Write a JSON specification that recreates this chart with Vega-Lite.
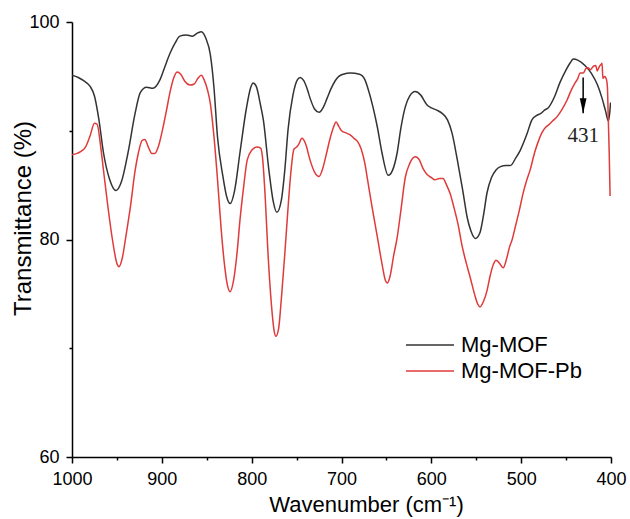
{
  "$schema": "https://vega.github.io/schema/vega-lite/v6.json",
  "width": 539,
  "height": 435,
  "autosize": {"type": "none"},
  "padding": {"left": 72, "top": 22, "right": 19, "bottom": 62},
  "background": "white",
  "config": {
    "view": {"stroke": null},
    "font": "Liberation Sans",
    "axis": {
      "domainColor": "black", "domainWidth": 1.5, "tickColor": "black", "tickWidth": 1.5,
      "labelColor": "black", "titleColor": "black", "labelFont": "Liberation Sans", "titleFont": "Liberation Sans",
      "titleFontWeight": "normal", "grid": false
    }
  },
  "datasets": {
    "spectra": [
      {"wn": 1000, "t": 95.1, "s": "Mg-MOF"}, {"wn": 993, "t": 94.9, "s": "Mg-MOF"}, {"wn": 987, "t": 94.6, "s": "Mg-MOF"},
      {"wn": 980, "t": 94.1, "s": "Mg-MOF"}, {"wn": 975, "t": 93.2, "s": "Mg-MOF"}, {"wn": 970, "t": 91.0, "s": "Mg-MOF"},
      {"wn": 965, "t": 88.0, "s": "Mg-MOF"}, {"wn": 958, "t": 85.5, "s": "Mg-MOF"}, {"wn": 951, "t": 84.5, "s": "Mg-MOF"},
      {"wn": 945, "t": 85.3, "s": "Mg-MOF"}, {"wn": 937.6, "t": 88.0, "s": "Mg-MOF"}, {"wn": 930, "t": 91.5, "s": "Mg-MOF"},
      {"wn": 924, "t": 93.5, "s": "Mg-MOF"}, {"wn": 917, "t": 94.0, "s": "Mg-MOF"}, {"wn": 910, "t": 93.9, "s": "Mg-MOF"},
      {"wn": 902, "t": 94.7, "s": "Mg-MOF"}, {"wn": 897, "t": 95.8, "s": "Mg-MOF"}, {"wn": 891, "t": 97.1, "s": "Mg-MOF"},
      {"wn": 885, "t": 98.1, "s": "Mg-MOF"}, {"wn": 880, "t": 98.7, "s": "Mg-MOF"}, {"wn": 873, "t": 98.8, "s": "Mg-MOF"},
      {"wn": 866, "t": 98.7, "s": "Mg-MOF"}, {"wn": 860, "t": 99.0, "s": "Mg-MOF"}, {"wn": 856, "t": 99.1, "s": "Mg-MOF"},
      {"wn": 851, "t": 98.5, "s": "Mg-MOF"}, {"wn": 846, "t": 97.0, "s": "Mg-MOF"}, {"wn": 842, "t": 94.0, "s": "Mg-MOF"},
      {"wn": 838, "t": 89.4, "s": "Mg-MOF"}, {"wn": 832, "t": 85.8, "s": "Mg-MOF"}, {"wn": 828, "t": 84.0, "s": "Mg-MOF"},
      {"wn": 824, "t": 83.3, "s": "Mg-MOF"}, {"wn": 819, "t": 84.5, "s": "Mg-MOF"}, {"wn": 813, "t": 88.0, "s": "Mg-MOF"},
      {"wn": 806, "t": 92.0, "s": "Mg-MOF"}, {"wn": 801, "t": 94.0, "s": "Mg-MOF"}, {"wn": 798.5, "t": 94.4, "s": "Mg-MOF"},
      {"wn": 795, "t": 94.1, "s": "Mg-MOF"}, {"wn": 790, "t": 92.3, "s": "Mg-MOF"}, {"wn": 787, "t": 91.0, "s": "Mg-MOF"},
      {"wn": 781, "t": 86.5, "s": "Mg-MOF"}, {"wn": 776, "t": 83.5, "s": "Mg-MOF"}, {"wn": 772, "t": 82.5, "s": "Mg-MOF"},
      {"wn": 767, "t": 83.6, "s": "Mg-MOF"}, {"wn": 763, "t": 86.5, "s": "Mg-MOF"}, {"wn": 759.5, "t": 90.1, "s": "Mg-MOF"},
      {"wn": 754, "t": 93.3, "s": "Mg-MOF"}, {"wn": 749, "t": 94.7, "s": "Mg-MOF"}, {"wn": 746, "t": 94.9, "s": "Mg-MOF"},
      {"wn": 742, "t": 94.6, "s": "Mg-MOF"}, {"wn": 738, "t": 93.8, "s": "Mg-MOF"}, {"wn": 735, "t": 93.0, "s": "Mg-MOF"},
      {"wn": 730, "t": 92.0, "s": "Mg-MOF"}, {"wn": 725, "t": 91.7, "s": "Mg-MOF"}, {"wn": 720, "t": 92.2, "s": "Mg-MOF"},
      {"wn": 716, "t": 93.0, "s": "Mg-MOF"}, {"wn": 712, "t": 93.8, "s": "Mg-MOF"}, {"wn": 707, "t": 94.6, "s": "Mg-MOF"},
      {"wn": 703, "t": 95.0, "s": "Mg-MOF"}, {"wn": 698, "t": 95.2, "s": "Mg-MOF"}, {"wn": 690, "t": 95.3, "s": "Mg-MOF"},
      {"wn": 680, "t": 95.2, "s": "Mg-MOF"}, {"wn": 674, "t": 94.7, "s": "Mg-MOF"}, {"wn": 671, "t": 94.0, "s": "Mg-MOF"},
      {"wn": 665, "t": 92.2, "s": "Mg-MOF"}, {"wn": 660, "t": 90.3, "s": "Mg-MOF"}, {"wn": 655, "t": 88.0, "s": "Mg-MOF"},
      {"wn": 648, "t": 85.9, "s": "Mg-MOF"}, {"wn": 643, "t": 86.4, "s": "Mg-MOF"}, {"wn": 638, "t": 88.0, "s": "Mg-MOF"},
      {"wn": 634, "t": 90.2, "s": "Mg-MOF"}, {"wn": 629, "t": 92.2, "s": "Mg-MOF"}, {"wn": 624, "t": 93.2, "s": "Mg-MOF"},
      {"wn": 618, "t": 93.6, "s": "Mg-MOF"}, {"wn": 612, "t": 93.3, "s": "Mg-MOF"}, {"wn": 605, "t": 92.4, "s": "Mg-MOF"},
      {"wn": 600, "t": 92.1, "s": "Mg-MOF"}, {"wn": 594, "t": 91.9, "s": "Mg-MOF"}, {"wn": 588, "t": 91.6, "s": "Mg-MOF"},
      {"wn": 582, "t": 91.0, "s": "Mg-MOF"}, {"wn": 577, "t": 89.8, "s": "Mg-MOF"}, {"wn": 571, "t": 87.3, "s": "Mg-MOF"},
      {"wn": 565, "t": 84.5, "s": "Mg-MOF"}, {"wn": 560, "t": 82.0, "s": "Mg-MOF"}, {"wn": 556, "t": 80.8, "s": "Mg-MOF"},
      {"wn": 551, "t": 80.1, "s": "Mg-MOF"}, {"wn": 546, "t": 80.6, "s": "Mg-MOF"}, {"wn": 542, "t": 82.2, "s": "Mg-MOF"},
      {"wn": 538, "t": 84.3, "s": "Mg-MOF"}, {"wn": 533, "t": 85.7, "s": "Mg-MOF"}, {"wn": 528, "t": 86.4, "s": "Mg-MOF"},
      {"wn": 523, "t": 86.7, "s": "Mg-MOF"}, {"wn": 517, "t": 86.8, "s": "Mg-MOF"}, {"wn": 512, "t": 86.8, "s": "Mg-MOF"},
      {"wn": 506, "t": 87.5, "s": "Mg-MOF"}, {"wn": 501, "t": 88.2, "s": "Mg-MOF"}, {"wn": 494, "t": 89.6, "s": "Mg-MOF"},
      {"wn": 488, "t": 91.0, "s": "Mg-MOF"}, {"wn": 483, "t": 91.4, "s": "Mg-MOF"}, {"wn": 478, "t": 91.6, "s": "Mg-MOF"},
      {"wn": 474, "t": 91.9, "s": "Mg-MOF"}, {"wn": 470, "t": 92.1, "s": "Mg-MOF"}, {"wn": 463, "t": 93.1, "s": "Mg-MOF"},
      {"wn": 457, "t": 94.4, "s": "Mg-MOF"}, {"wn": 450, "t": 95.6, "s": "Mg-MOF"}, {"wn": 445, "t": 96.3, "s": "Mg-MOF"},
      {"wn": 442, "t": 96.6, "s": "Mg-MOF"}, {"wn": 437, "t": 96.5, "s": "Mg-MOF"}, {"wn": 429, "t": 96.0, "s": "Mg-MOF"},
      {"wn": 422, "t": 95.3, "s": "Mg-MOF"}, {"wn": 415, "t": 94.2, "s": "Mg-MOF"}, {"wn": 410, "t": 93.0, "s": "Mg-MOF"},
      {"wn": 406, "t": 91.8, "s": "Mg-MOF"}, {"wn": 403, "t": 90.9, "s": "Mg-MOF"}, {"wn": 401.5, "t": 91.6, "s": "Mg-MOF"},
      {"wn": 400.5, "t": 92.6, "s": "Mg-MOF"},

      {"wn": 1000, "t": 87.8, "s": "Mg-MOF-Pb"}, {"wn": 995, "t": 87.9, "s": "Mg-MOF-Pb"}, {"wn": 990, "t": 88.1, "s": "Mg-MOF-Pb"},
      {"wn": 985, "t": 88.5, "s": "Mg-MOF-Pb"}, {"wn": 980, "t": 89.5, "s": "Mg-MOF-Pb"}, {"wn": 975, "t": 90.7, "s": "Mg-MOF-Pb"},
      {"wn": 972, "t": 90.6, "s": "Mg-MOF-Pb"}, {"wn": 968, "t": 88.5, "s": "Mg-MOF-Pb"}, {"wn": 965, "t": 86.4, "s": "Mg-MOF-Pb"},
      {"wn": 960, "t": 83.0, "s": "Mg-MOF-Pb"}, {"wn": 955, "t": 80.0, "s": "Mg-MOF-Pb"}, {"wn": 950, "t": 77.8, "s": "Mg-MOF-Pb"},
      {"wn": 947.7, "t": 77.5, "s": "Mg-MOF-Pb"}, {"wn": 944, "t": 78.3, "s": "Mg-MOF-Pb"}, {"wn": 940, "t": 80.3, "s": "Mg-MOF-Pb"},
      {"wn": 935, "t": 83.0, "s": "Mg-MOF-Pb"}, {"wn": 930, "t": 86.2, "s": "Mg-MOF-Pb"}, {"wn": 926, "t": 88.0, "s": "Mg-MOF-Pb"},
      {"wn": 922, "t": 89.1, "s": "Mg-MOF-Pb"}, {"wn": 919, "t": 89.2, "s": "Mg-MOF-Pb"}, {"wn": 915, "t": 88.5, "s": "Mg-MOF-Pb"},
      {"wn": 911, "t": 87.9, "s": "Mg-MOF-Pb"}, {"wn": 908, "t": 87.9, "s": "Mg-MOF-Pb"}, {"wn": 904, "t": 88.5, "s": "Mg-MOF-Pb"},
      {"wn": 900, "t": 89.8, "s": "Mg-MOF-Pb"}, {"wn": 895, "t": 91.8, "s": "Mg-MOF-Pb"}, {"wn": 891, "t": 93.5, "s": "Mg-MOF-Pb"},
      {"wn": 887, "t": 94.8, "s": "Mg-MOF-Pb"}, {"wn": 883, "t": 95.4, "s": "Mg-MOF-Pb"}, {"wn": 879, "t": 95.2, "s": "Mg-MOF-Pb"},
      {"wn": 874, "t": 94.5, "s": "Mg-MOF-Pb"}, {"wn": 868.6, "t": 94.2, "s": "Mg-MOF-Pb"}, {"wn": 864, "t": 94.3, "s": "Mg-MOF-Pb"},
      {"wn": 860, "t": 94.8, "s": "Mg-MOF-Pb"}, {"wn": 856, "t": 95.1, "s": "Mg-MOF-Pb"}, {"wn": 853, "t": 94.7, "s": "Mg-MOF-Pb"},
      {"wn": 849, "t": 93.7, "s": "Mg-MOF-Pb"}, {"wn": 846, "t": 92.5, "s": "Mg-MOF-Pb"}, {"wn": 842, "t": 89.5, "s": "Mg-MOF-Pb"},
      {"wn": 838, "t": 85.5, "s": "Mg-MOF-Pb"}, {"wn": 834, "t": 81.0, "s": "Mg-MOF-Pb"}, {"wn": 830, "t": 77.5, "s": "Mg-MOF-Pb"},
      {"wn": 827, "t": 75.8, "s": "Mg-MOF-Pb"}, {"wn": 824, "t": 75.2, "s": "Mg-MOF-Pb"}, {"wn": 820, "t": 76.3, "s": "Mg-MOF-Pb"},
      {"wn": 816, "t": 79.0, "s": "Mg-MOF-Pb"}, {"wn": 813, "t": 81.8, "s": "Mg-MOF-Pb"}, {"wn": 809, "t": 84.8, "s": "Mg-MOF-Pb"},
      {"wn": 805, "t": 87.3, "s": "Mg-MOF-Pb"}, {"wn": 800, "t": 88.2, "s": "Mg-MOF-Pb"}, {"wn": 794, "t": 88.5, "s": "Mg-MOF-Pb"},
      {"wn": 790, "t": 88.4, "s": "Mg-MOF-Pb"}, {"wn": 788, "t": 87.6, "s": "Mg-MOF-Pb"}, {"wn": 785, "t": 84.0, "s": "Mg-MOF-Pb"},
      {"wn": 782, "t": 79.0, "s": "Mg-MOF-Pb"}, {"wn": 778, "t": 74.0, "s": "Mg-MOF-Pb"}, {"wn": 775, "t": 71.6, "s": "Mg-MOF-Pb"},
      {"wn": 773, "t": 71.1, "s": "Mg-MOF-Pb"}, {"wn": 770, "t": 71.8, "s": "Mg-MOF-Pb"}, {"wn": 767, "t": 74.5, "s": "Mg-MOF-Pb"},
      {"wn": 763, "t": 78.8, "s": "Mg-MOF-Pb"}, {"wn": 759, "t": 83.5, "s": "Mg-MOF-Pb"}, {"wn": 756, "t": 86.5, "s": "Mg-MOF-Pb"},
      {"wn": 753, "t": 88.3, "s": "Mg-MOF-Pb"}, {"wn": 750, "t": 88.5, "s": "Mg-MOF-Pb"}, {"wn": 748, "t": 88.7, "s": "Mg-MOF-Pb"},
      {"wn": 744, "t": 89.3, "s": "Mg-MOF-Pb"}, {"wn": 740, "t": 88.8, "s": "Mg-MOF-Pb"}, {"wn": 735, "t": 87.3, "s": "Mg-MOF-Pb"},
      {"wn": 730, "t": 86.2, "s": "Mg-MOF-Pb"}, {"wn": 725, "t": 85.8, "s": "Mg-MOF-Pb"}, {"wn": 721, "t": 86.5, "s": "Mg-MOF-Pb"},
      {"wn": 717, "t": 87.8, "s": "Mg-MOF-Pb"}, {"wn": 713, "t": 89.2, "s": "Mg-MOF-Pb"}, {"wn": 709, "t": 90.3, "s": "Mg-MOF-Pb"},
      {"wn": 706, "t": 90.8, "s": "Mg-MOF-Pb"}, {"wn": 703, "t": 90.4, "s": "Mg-MOF-Pb"}, {"wn": 700, "t": 90.0, "s": "Mg-MOF-Pb"},
      {"wn": 695, "t": 89.8, "s": "Mg-MOF-Pb"}, {"wn": 690, "t": 89.6, "s": "Mg-MOF-Pb"}, {"wn": 686, "t": 89.3, "s": "Mg-MOF-Pb"},
      {"wn": 682, "t": 89.0, "s": "Mg-MOF-Pb"}, {"wn": 678, "t": 88.3, "s": "Mg-MOF-Pb"}, {"wn": 674, "t": 87.0, "s": "Mg-MOF-Pb"},
      {"wn": 671, "t": 85.5, "s": "Mg-MOF-Pb"}, {"wn": 666, "t": 83.0, "s": "Mg-MOF-Pb"}, {"wn": 660, "t": 80.2, "s": "Mg-MOF-Pb"},
      {"wn": 655, "t": 77.8, "s": "Mg-MOF-Pb"}, {"wn": 651, "t": 76.2, "s": "Mg-MOF-Pb"}, {"wn": 649, "t": 76.0, "s": "Mg-MOF-Pb"},
      {"wn": 646, "t": 76.6, "s": "Mg-MOF-Pb"}, {"wn": 642, "t": 78.5, "s": "Mg-MOF-Pb"}, {"wn": 638, "t": 80.2, "s": "Mg-MOF-Pb"},
      {"wn": 634, "t": 82.6, "s": "Mg-MOF-Pb"}, {"wn": 629, "t": 85.7, "s": "Mg-MOF-Pb"}, {"wn": 624, "t": 87.0, "s": "Mg-MOF-Pb"},
      {"wn": 618, "t": 87.6, "s": "Mg-MOF-Pb"}, {"wn": 614, "t": 87.4, "s": "Mg-MOF-Pb"}, {"wn": 609, "t": 86.5, "s": "Mg-MOF-Pb"},
      {"wn": 605, "t": 86.0, "s": "Mg-MOF-Pb"}, {"wn": 600, "t": 85.7, "s": "Mg-MOF-Pb"}, {"wn": 596, "t": 85.5, "s": "Mg-MOF-Pb"},
      {"wn": 591, "t": 85.6, "s": "Mg-MOF-Pb"}, {"wn": 587, "t": 85.6, "s": "Mg-MOF-Pb"}, {"wn": 583, "t": 85.0, "s": "Mg-MOF-Pb"},
      {"wn": 579, "t": 84.2, "s": "Mg-MOF-Pb"}, {"wn": 575, "t": 83.0, "s": "Mg-MOF-Pb"}, {"wn": 570, "t": 81.3, "s": "Mg-MOF-Pb"},
      {"wn": 566, "t": 79.5, "s": "Mg-MOF-Pb"}, {"wn": 561, "t": 77.8, "s": "Mg-MOF-Pb"}, {"wn": 557, "t": 76.6, "s": "Mg-MOF-Pb"},
      {"wn": 552, "t": 75.0, "s": "Mg-MOF-Pb"}, {"wn": 548, "t": 74.0, "s": "Mg-MOF-Pb"}, {"wn": 545.8, "t": 73.8, "s": "Mg-MOF-Pb"},
      {"wn": 542, "t": 74.3, "s": "Mg-MOF-Pb"}, {"wn": 538, "t": 75.3, "s": "Mg-MOF-Pb"}, {"wn": 534.7, "t": 76.6, "s": "Mg-MOF-Pb"},
      {"wn": 531, "t": 77.7, "s": "Mg-MOF-Pb"}, {"wn": 528, "t": 78.1, "s": "Mg-MOF-Pb"}, {"wn": 524, "t": 77.8, "s": "Mg-MOF-Pb"},
      {"wn": 520, "t": 77.4, "s": "Mg-MOF-Pb"}, {"wn": 516, "t": 78.3, "s": "Mg-MOF-Pb"}, {"wn": 513, "t": 79.3, "s": "Mg-MOF-Pb"},
      {"wn": 510, "t": 80.0, "s": "Mg-MOF-Pb"}, {"wn": 506.7, "t": 81.1, "s": "Mg-MOF-Pb"}, {"wn": 502, "t": 82.7, "s": "Mg-MOF-Pb"},
      {"wn": 498, "t": 84.2, "s": "Mg-MOF-Pb"}, {"wn": 494, "t": 85.4, "s": "Mg-MOF-Pb"}, {"wn": 490, "t": 86.4, "s": "Mg-MOF-Pb"},
      {"wn": 485, "t": 88.0, "s": "Mg-MOF-Pb"}, {"wn": 481, "t": 89.0, "s": "Mg-MOF-Pb"}, {"wn": 477, "t": 89.8, "s": "Mg-MOF-Pb"},
      {"wn": 473, "t": 90.3, "s": "Mg-MOF-Pb"}, {"wn": 470, "t": 90.5, "s": "Mg-MOF-Pb"}, {"wn": 465, "t": 90.9, "s": "Mg-MOF-Pb"},
      {"wn": 460, "t": 91.3, "s": "Mg-MOF-Pb"}, {"wn": 455, "t": 91.9, "s": "Mg-MOF-Pb"}, {"wn": 449, "t": 92.8, "s": "Mg-MOF-Pb"},
      {"wn": 445, "t": 93.6, "s": "Mg-MOF-Pb"}, {"wn": 440, "t": 94.4, "s": "Mg-MOF-Pb"}, {"wn": 437, "t": 94.8, "s": "Mg-MOF-Pb"},
      {"wn": 434.5, "t": 95.3, "s": "Mg-MOF-Pb"}, {"wn": 431, "t": 95.3, "s": "Mg-MOF-Pb"}, {"wn": 428, "t": 95.7, "s": "Mg-MOF-Pb"},
      {"wn": 425.6, "t": 95.8, "s": "Mg-MOF-Pb"}, {"wn": 423, "t": 95.6, "s": "Mg-MOF-Pb"}, {"wn": 420, "t": 95.9, "s": "Mg-MOF-Pb"},
      {"wn": 417, "t": 96.0, "s": "Mg-MOF-Pb"}, {"wn": 415.4, "t": 95.5, "s": "Mg-MOF-Pb"}, {"wn": 413, "t": 95.9, "s": "Mg-MOF-Pb"},
      {"wn": 411, "t": 96.1, "s": "Mg-MOF-Pb"}, {"wn": 410, "t": 96.2, "s": "Mg-MOF-Pb"}, {"wn": 409, "t": 94.8, "s": "Mg-MOF-Pb"},
      {"wn": 407, "t": 95.0, "s": "Mg-MOF-Pb"}, {"wn": 405, "t": 94.7, "s": "Mg-MOF-Pb"}, {"wn": 404, "t": 94.0, "s": "Mg-MOF-Pb"},
      {"wn": 403, "t": 91.0, "s": "Mg-MOF-Pb"}, {"wn": 402, "t": 88.0, "s": "Mg-MOF-Pb"}, {"wn": 401, "t": 84.0, "s": "Mg-MOF-Pb"}
    ],
    "arrow": [{"wn": 431, "top": 94.9, "tip": 91.6, "label": "431", "lab": 89.5}]
  },
  "layer": [
    {
      "data": {"name": "spectra"},
      "mark": {"type": "line", "strokeWidth": 1.5, "interpolate": "monotone", "clip": true},
      "encoding": {
        "x": {
          "field": "wn", "type": "quantitative",
          "scale": {"domain": [400, 1000], "reverse": true, "nice": false, "zero": false},
          "axis": {
            "title": "Wavenumber (cm⁻¹)", "titleFontSize": 22, "titleX": 294, "titleY": 54, "titleBaseline": "alphabetic", "titleAnchor": null,
            "values": [1000, 950, 900, 850, 800, 750, 700, 650, 600, 550, 500, 450, 400],
            "format": "d",
            "labelExpr": "datum.value % 100 === 0 ? datum.label : ''",
            "labelFontSize": 18, "labelPadding": 7, "labelFlush": false, "labelOverlap": false,
            "tickSize": {"condition": {"test": "datum.value % 100 === 0", "value": 6}, "value": 3}
          }
        },
        "y": {
          "field": "t", "type": "quantitative",
          "scale": {"domain": [60, 100], "nice": false, "zero": false},
          "axis": {
            "title": "Transmittance (%)", "titleFontSize": 24, "titleX": -37, "titleY": 196, "titleAnchor": null,
            "values": [60, 70, 80, 90, 100],
            "format": "d",
            "labelExpr": "datum.value % 20 === 0 ? datum.label : ''",
            "labelFontSize": 18, "labelPadding": 7, "labelFlush": false, "labelOverlap": false,
            "tickSize": {"condition": {"test": "datum.value % 20 === 0", "value": 6}, "value": 3}
          }
        },
        "color": {
          "field": "s", "type": "nominal",
          "scale": {"domain": ["Mg-MOF", "Mg-MOF-Pb"], "range": ["#333333", "#e03a3a"]},
          "legend": {
            "title": null, "orient": "none", "legendX": 347, "legendY": 312,
            "symbolType": "M-4,0H4", "symbolSize": 144, "symbolStrokeWidth": 1.5,
            "labelFontSize": 22, "labelColor": "black", "labelFont": "Liberation Sans", "labelOffset": 20, "rowPadding": 4
          }
        }
      }
    },
    {
      "data": {"name": "arrow"},
      "mark": {"type": "rule", "color": "black", "strokeWidth": 1.5},
      "encoding": {
        "x": {"field": "wn", "type": "quantitative"},
        "y": {"field": "top", "type": "quantitative"},
        "y2": {"field": "tip"}
      }
    },
    {
      "data": {"name": "arrow"},
      "mark": {"type": "point", "shape": "M-0.45,-1L0.45,-1L0,1Z", "filled": true, "color": "black", "opacity": 1, "size": 225, "yOffset": -7.5},
      "encoding": {
        "x": {"field": "wn", "type": "quantitative"},
        "y": {"field": "tip", "type": "quantitative"}
      }
    },
    {
      "data": {"name": "arrow"},
      "mark": {"type": "text", "font": "Liberation Serif", "fontSize": 21, "color": "#222222", "align": "center", "baseline": "middle"},
      "encoding": {
        "x": {"field": "wn", "type": "quantitative"},
        "y": {"field": "lab", "type": "quantitative"},
        "text": {"field": "label"}
      }
    }
  ]
}
